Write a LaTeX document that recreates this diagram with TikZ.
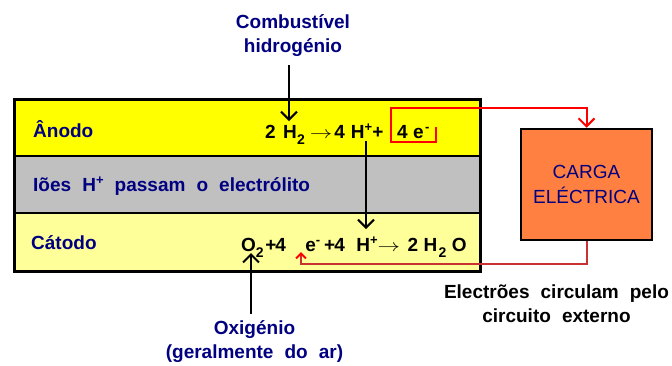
\documentclass[tikz,border=0pt]{standalone}
\usepackage{fontspec}
\setmainfont{Liberation Sans}[WordSpace=2.1]
\usetikzlibrary{arrows.meta}

\definecolor{anodo}{HTML}{FFFF00}
\definecolor{catodo}{HTML}{FFFF99}
\definecolor{electrolito}{HTML}{C0C0C0}
\definecolor{carga}{HTML}{FF8040}
\definecolor{rotulo}{HTML}{000080}
\definecolor{fio}{HTML}{FF0000}
\definecolor{fioret}{HTML}{C83232}

% indices e cargas das formulas
\newcommand{\baixo}[1]{\raisebox{-6pt}{\fontsize{14}{14}\selectfont #1}}
\newcommand{\alto}[1]{\raisebox{7pt}{\fontsize{13}{13}\selectfont #1}}
\newcommand{\seta}{\scalebox{1.3}[1]{$\rightarrow$}}

\begin{document}
\begin{tikzpicture}[
      x=1pt, y=-1pt,
      lbl/.style={font=\fontsize{19}{24}\selectfont\bfseries, text=rotulo, inner sep=0},
      eq/.style={font=\fontsize{19}{24}\selectfont\bfseries, inner sep=0},
      barb/.style={-{Straight Barb[length=8pt,width=16pt,line width=2pt]}, line width=2.2pt},
      ]

      \useasboundingbox (0,0) rectangle (672,365);

      % celula: anodo, electrolito, catodo
      \fill[anodo] (14,99) rectangle (480,156);
      \fill[electrolito] (14,156) rectangle (480,213);
      \fill[catodo] (14,213) rectangle (480,271);
      \draw[line width=2.5pt] (14,156) -- (480,156) (14,213) -- (480,213);
      \draw[line width=3pt] (14,99) rectangle (480,271);

      \node[lbl, anchor=west] (anodo) at (33,129) {Ânodo};
      \node[lbl, anchor=west] (iones) at (33,186) {Iões H\alto{+} passam o electrólito};
      \node[lbl, anchor=west] (catodo) at (31,243) {Cátodo};

      \node[eq, anchor=base west] (eqan) at (265,138)
        {2\hspace{7.4pt}H\hspace{0.3pt}\baixo{2}\hspace{5pt}\seta\hspace{2pt}4\hspace{6pt}H\alto{+}+};
      \node[eq, anchor=base west] (ean) at (397,138) {4\hspace{5.4pt}e\hspace{1.4pt}\alto{-}};
      \node[eq, anchor=base west] (eqcat) at (241,251)
        {O\baixo{2}\hspace{1.5pt}+\hspace{-1pt}4\hspace{19.4pt}e\alto{-}\hspace{4pt}+\hspace{-1pt}4\hspace{11.4pt}H\alto{+}\seta\hspace{7.6pt}2\hspace{5.4pt}H\hspace{1.3pt}\baixo{2}\hspace{5.4pt}O};

      % entradas
      \node[lbl, align=center] (fuel) at (293,36) {Combustível\\hidrogénio};
      \coordinate (h2) at (289,121);
      \draw[barb, shorten <=8pt] (fuel.south -| h2) -- (h2);

      \node[lbl, align=center] (oxi) at (254.5,342) {Oxigénio\\(geralmente do ar)};
      \coordinate (o2) at (251,253);
      \draw[barb, shorten <=7pt] (oxi.north -| o2) -- (o2);

      \coordinate (hplus) at (366,141);
      \coordinate (hcat) at (366,229);
      \draw[barb] (hplus) -- (hcat);

      % carga e circuito externo
      \node[draw, line width=2.5pt, fill=carga, minimum width=131pt, minimum height=111pt,
            font=\fontsize{19}{25}\selectfont, text=rotulo, align=center] (carga) at (586.5,184.5) {CARGA\\ELÉCTRICA};

      \draw[fio, line width=2pt, -{Straight Barb[length=8pt,width=16pt,line width=2pt]}]
        (436,127) -- (436,142) -- (391,142) -- (391,108) -- (carga.north |- 0,108) -- (carga.north);

      \coordinate (ecat) at (301,252);
      \draw[fioret, line width=2pt, -{Straight Barb[length=5pt,width=10pt,line width=2pt,color=fio]}]
        (carga.south) -- (carga.south |- 0,264) -- (ecat |- 0,264) -- (ecat);

      \node[eq, align=center] (circ) at (556.5,304) {Electrões circulam pelo\\circuito externo};

\end{tikzpicture}
\end{document}
